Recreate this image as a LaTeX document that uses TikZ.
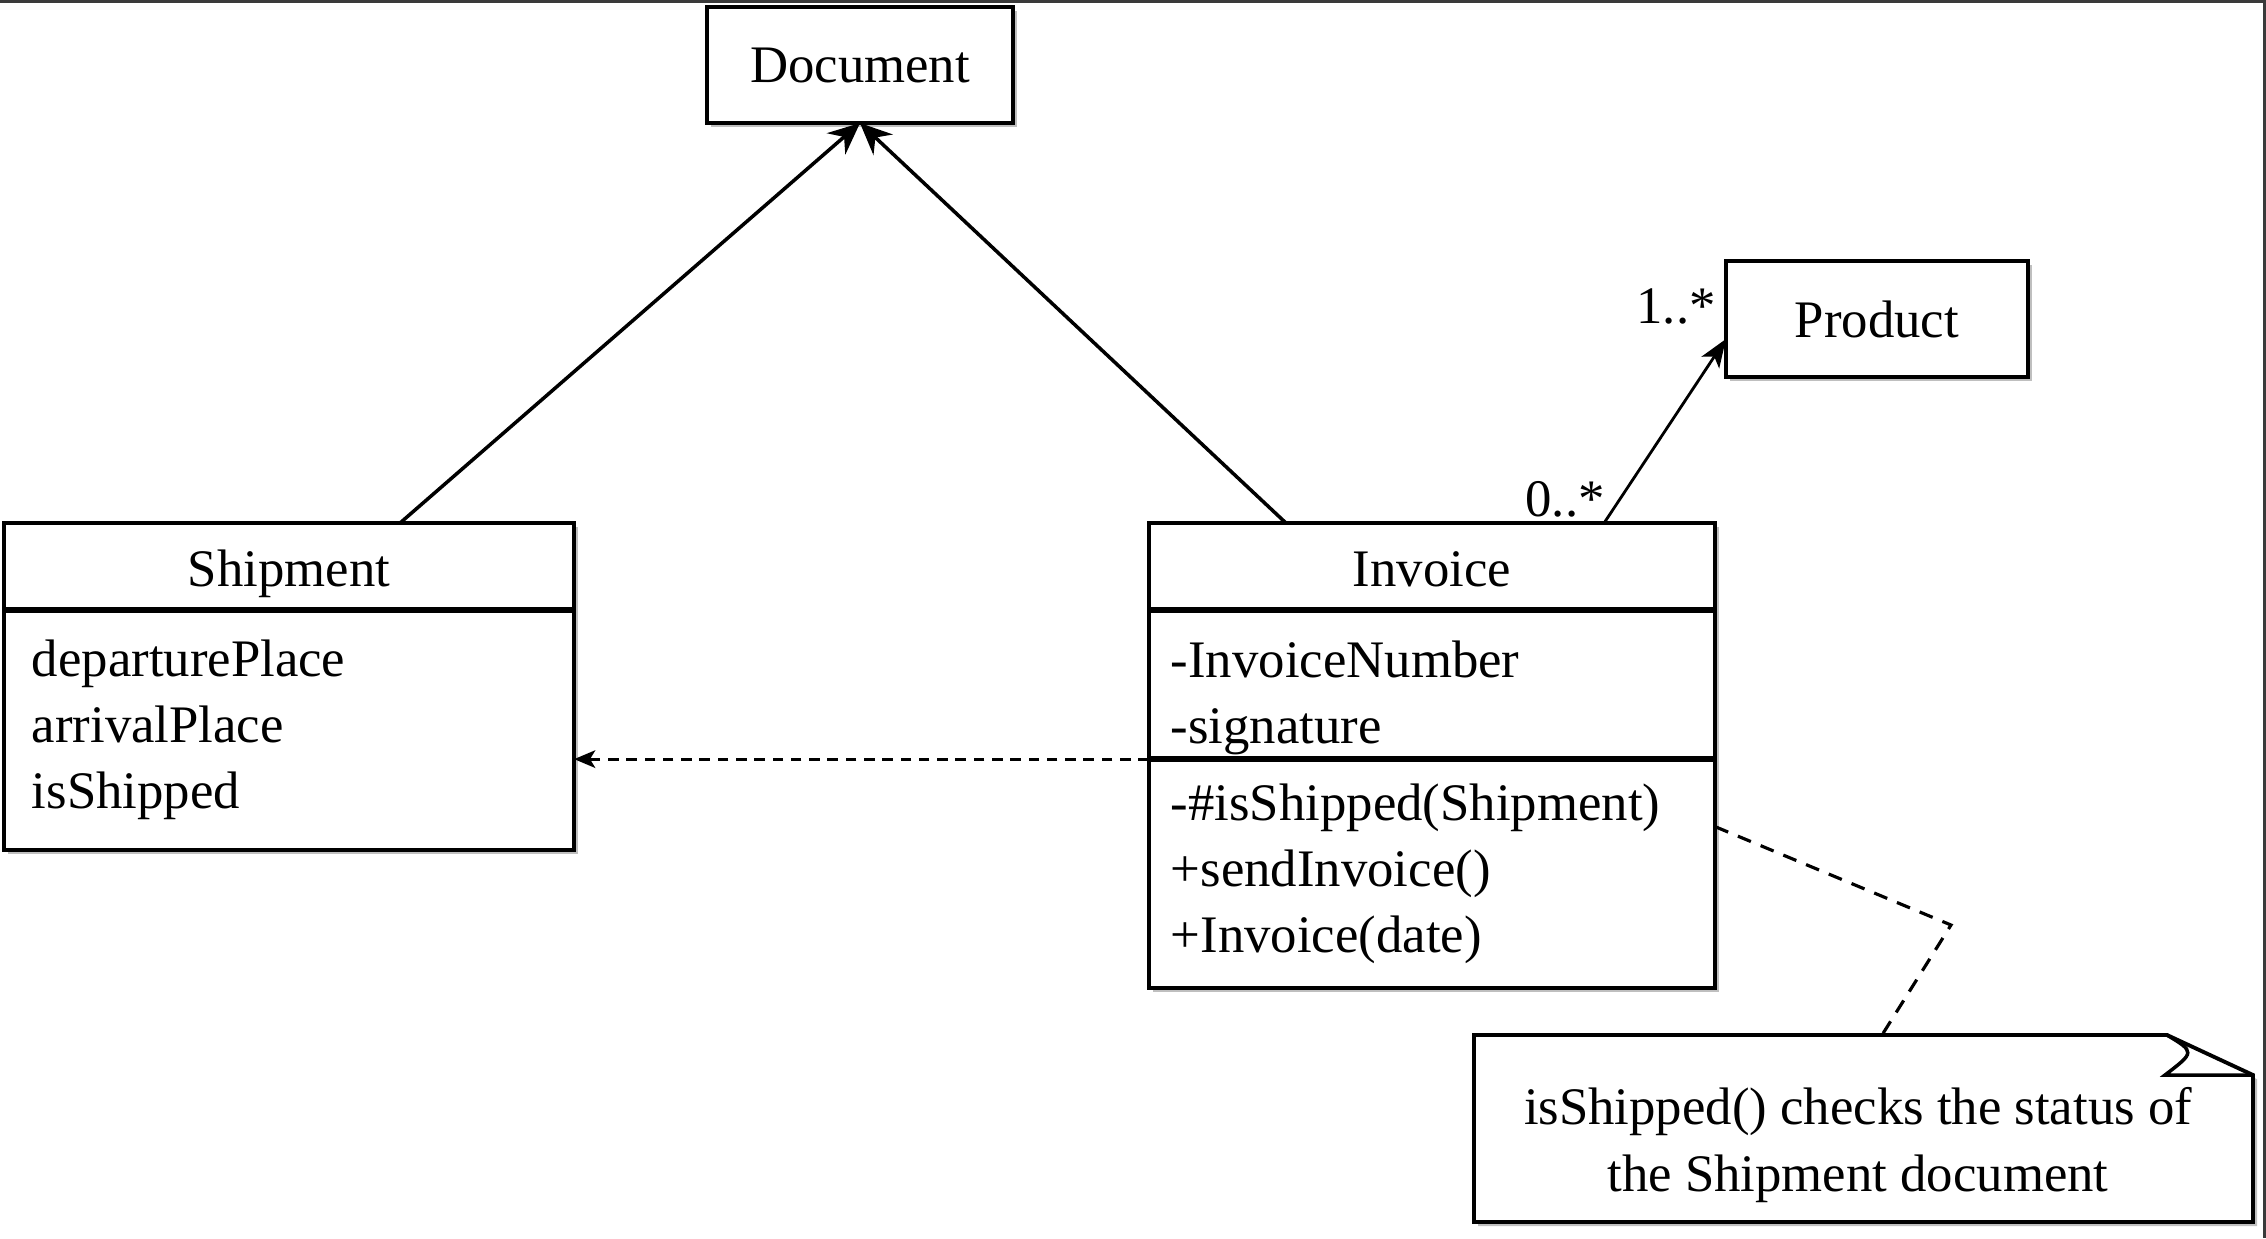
\documentclass[tikz,border=0pt]{standalone}
\usepackage{fontspec}
\setmainfont{Liberation Serif}
\usetikzlibrary{arrows.meta,shadows,calc}
\definecolor{edgegray}{RGB}{58,58,58}
\tikzset{
  umltext/.style={font=\fontsize{15}{18.8}\selectfont},
  umlbox/.style={draw, line width=1.1pt, fill=white, inner sep=0pt, outer sep=0pt, umltext,
    drop shadow={shadow xshift=1.2pt, shadow yshift=-1.2pt, opacity=0.5}},
  classname/.style={umlbox, text height=15pt, text depth=3.5pt},
  gen/.style={line width=1pt, -{Stealth[length=9pt,width=8pt,inset=3pt]}},
  assoc/.style={line width=0.8pt, -{Stealth[length=8pt,width=6pt,inset=2pt]}},
  dep/.style={line width=0.8pt, dash pattern=on 3pt off 2.2pt, -{Stealth[length=6pt,width=5pt,inset=1.5pt]}},
  notelink/.style={line width=0.9pt, dash pattern=on 4pt off 3pt},
  divider/.style={line width=1.6pt},
  mult/.style={umltext, inner sep=0pt},
}
\begin{document}
\begin{tikzpicture}[x=0.01cm,y=-0.01cm]
\useasboundingbox (0,0) rectangle (2266,1238);
\fill[white] (0,0) rectangle (2266,1238);
\fill[edgegray] (0,0) rectangle (2266,2.5);
\fill[edgegray] (2263,0) rectangle (2266,1238);

% classes
\node[umlbox, minimum width=3.06cm, minimum height=1.16cm] (doc) at (860,65) {Document};
\node[umlbox, minimum width=3.02cm, minimum height=1.16cm] (prod) at (1877,319) {Product};

\node[classname, minimum width=5.70cm, minimum height=0.87cm] (shiphead) at (289,566.5) {Shipment};
\node[umlbox, anchor=north, minimum height=2.40cm, text width=5.14cm, inner xsep=0.28cm, align=left]
  (shipattr) at (shiphead.south) {departurePlace\\arrivalPlace\\isShipped};
\draw[divider] (shiphead.south west) -- (shiphead.south east);

\node[classname, minimum width=5.66cm, minimum height=0.87cm] (invhead) at (1432,566.5) {Invoice};
\node[umlbox, anchor=north, minimum height=1.49cm, text width=5.22cm, inner xsep=0.22cm, align=left]
  (invattr) at (invhead.south) {\rule{0pt}{18pt}-InvoiceNumber\\-signature};
\node[umlbox, anchor=north, minimum height=2.29cm, text width=5.22cm, inner xsep=0.22cm, align=left]
  (invops) at (invattr.south) {-\#isShipped(Shipment)\\+sendInvoice()\\+Invoice(date)};
\draw[divider] (invhead.south west) -- (invhead.south east);
\draw[divider] (invattr.south west) -- (invattr.south east);

% note shape
\draw[line width=1.1pt, fill=white, drop shadow={shadow xshift=1.2pt, shadow yshift=-1.2pt, opacity=0.5}]
  (1474,1035) -- (2167,1035) -- (2253,1075) -- (2253,1222) -- (1474,1222) -- cycle;
\draw[line width=1pt] (2167,1035) .. controls (2195,1052) .. (2165,1075) -- (2253,1075);
\node[umltext, align=center, inner sep=0pt] (note) at (1858,1145)
  {isShipped() checks the status of\\the Shipment document};
\coordinate (noteattach) at (1882,1035);
\coordinate (notebend) at (1951,925);

% connectors
\draw[gen] ([xshift=3.96cm]shiphead.north west) -- (doc.south);
\draw[gen] ([xshift=1.37cm]invhead.north west) -- (doc.south);
\draw[assoc] ([xshift=4.55cm]invhead.north west) -- ([yshift=-0.2cm]prod.west);
\draw[dep] (invattr.south west) -- (invattr.south west -| shipattr.east);
\draw[notelink] ([yshift=0.47cm]invops.east) -- (notebend) -- (noteattach);

% multiplicities
\node[mult] (m1) at (1676,306) {1..*};
\node[mult] (m0) at (1565,499) {0..*};
\end{tikzpicture}
\end{document}
